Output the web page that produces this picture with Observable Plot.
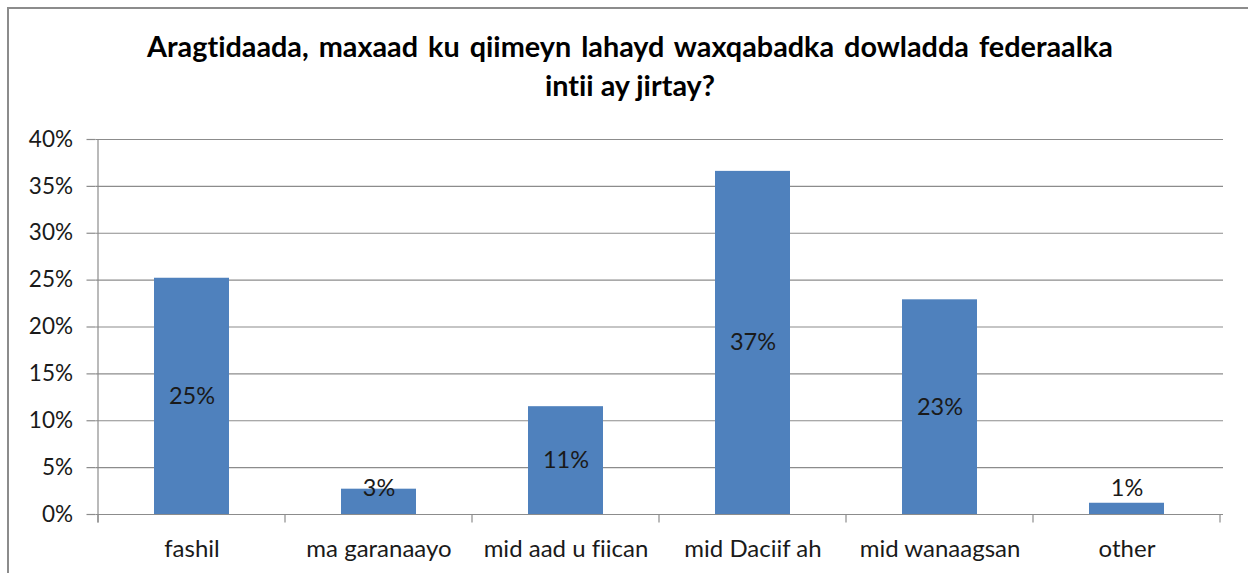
<!DOCTYPE html>
<html>
<head>
<meta charset="utf-8">
<script src="https://cdn.jsdelivr.net/npm/d3@7"></script>
<script src="https://cdn.jsdelivr.net/npm/@observablehq/plot@0.6"></script>
<style>
  html, body { margin: 0; padding: 0; background: #fff; }
  #wrap { position: relative; width: 1248px; height: 573px; overflow: hidden; font-family: Lato, "Open Sans", sans-serif; font-variant-ligatures: none; }
  #frame { position: absolute; left: 7px; top: 7px; width: 1300px; height: 700px; border-left: 2px solid #8c8c8c; border-top: 2px solid #8c8c8c; pointer-events: none; }
  #title { box-sizing: border-box; height: 110px; padding-top: 27px; text-align: center; padding-left: 12px;
           font-family: Lato, sans-serif; font-weight: bold; font-size: 28.8px; line-height: 39px; word-spacing: 3px; color: #000; }
  #chart svg { display: block; font-variant-ligatures: none; }
</style>
</head>
<body>
<div id="wrap">
  <div id="frame"></div>
  <div id="title"><div>Aragtidaada, maxaad ku qiimeyn lahayd waxqabadka dowladda federaalka</div><div style="word-spacing:0">intii ay jirtay?</div></div>
  <div id="chart"></div>
</div>
<script>
const categories = ["fashil", "ma garanaayo", "mid aad u fiican", "mid Daciif ah", "mid wanaagsan", "other"];
const values = [25.2, 2.7, 11.5, 36.6, 22.9, 1.2];
const labels = ["25%", "3%", "11%", "37%", "23%", "1%"];
const yTicks = [0, 5, 10, 15, 20, 25, 30, 35, 40];

const data = categories.map((c, i) => ({category: c, value: values[i], label: labels[i]}));
const axisColor = "#8c8c8c";
const barColor = "#4F81BD";
const textColor = "#1a1a1a";

function separators(index, scales, values_, dimensions) {
  const x = scales.x, y = scales.y;
  const bw = x.bandwidth();
  const step = typeof x.step === "function" ? x.step() : bw / 0.4;
  const off = (step - bw) / 2;
  const edges = categories.map(c => x(c) - off);
  edges.push(x(categories[categories.length - 1]) + bw + off);
  const y0 = y(0), yTop = y(40);
  const g = d3.create("svg:g").attr("stroke", axisColor).attr("stroke-width", 1.2).attr("fill", "none");
  g.append("line").attr("x1", edges[0]).attr("x2", edges[0]).attr("y1", yTop).attr("y2", y0 + 8.5);
  edges.forEach(e => {
    g.append("line").attr("x1", e).attr("x2", e).attr("y1", y0).attr("y2", y0 + 8.5);
  });
  return g.node();
}

const plot = Plot.plot({
  width: 1248,
  height: 463,
  marginTop: 29,
  marginBottom: 59,
  marginLeft: 95.5,
  marginRight: 25,
  style: {fontFamily: "Lato, 'Open Sans', sans-serif", fontSize: "22px", color: textColor, background: "transparent"},
  x: {domain: categories, paddingInner: 0.6, paddingOuter: 0.3, label: null},
  y: {domain: [0, 40], label: null},
  marks: [
    Plot.ruleY(yTicks, {stroke: axisColor, strokeWidth: 1.2}),
    Plot.barY(data, {x: "category", y: "value", fill: barColor}),
    separators,
    Plot.axisY({ticks: yTicks, tickFormat: d => d + "%", tickSize: 9, tickPadding: 14, stroke: axisColor, strokeWidth: 1.2, fill: textColor, fontSize: 22.5, label: null}),
    Plot.axisX({tickSize: 0, tickPadding: 25, fill: textColor, fontSize: 24, label: null}),
    Plot.text(data, {x: "category", y: d => Math.max(d.value / 2, 2.75), text: "label", fill: textColor, fontSize: 23.5})
  ]
});
document.getElementById("chart").appendChild(plot);
</script>
</body>
</html>
